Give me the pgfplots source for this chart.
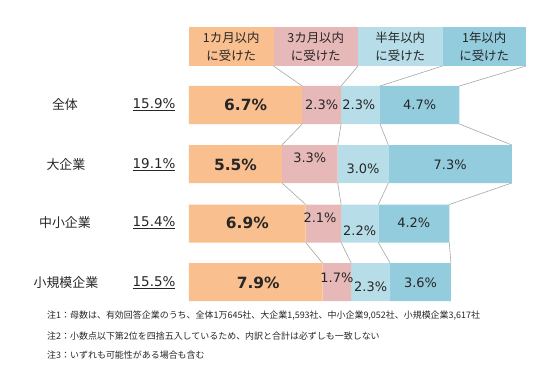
\documentclass[border=0pt]{standalone}
\usepackage{fontspec}
\setmainfont{Noto Sans CJK JP}
\newfontfamily\dvnum{DejaVu Sans}
\usepackage{pgfplots}
\pgfplotsset{compat=1.18}
\definecolor{cA}{HTML}{FABF8F}
\definecolor{cB}{HTML}{E6B9B8}
\definecolor{cC}{HTML}{B7DEE8}
\definecolor{cD}{HTML}{93CDDD}
\definecolor{ln}{HTML}{A6A6A6}
\definecolor{tx}{HTML}{262626}
\tikzset{
  myhead/.style={align=center, text=tx, font=\fontsize{12.5}{18}\selectfont},
  myconn/.style={draw=ln, line width=0.6bp},
  mybig/.style={text=tx, font=\dvnum\bfseries\fontsize{15.5}{17}\selectfont},
  mysmall/.style={text=tx, font=\dvnum\fontsize{13}{15}\selectfont},
  mycat/.style={text=tx, font=\fontsize{13}{15}\selectfont},
  mytot/.style={text=tx, font=\dvnum\fontsize{13.5}{15}\selectfont},
  mynote/.style={anchor=west, text=tx, inner sep=0pt, font=\fontsize{9}{10}\selectfont},
}
\begin{document}
\begin{tikzpicture}
\begin{axis}[
  at={(0,0)}, anchor=south west,
  width=543bp, height=366bp, scale only axis, hide axis, clip=false,
  xmin=-11.183, xmax=20.947, ymin=0, ymax=366, y dir=reverse,
  xbar stacked, bar width=38,
]
\addplot[fill=cA, draw=none] coordinates {(6.7,105) (5.5,164) (6.9,223.5) (7.9,282)};
\addplot[fill=cB, draw=none] coordinates {(2.3,105) (3.3,164) (2.1,223.5) (1.7,282)};
\addplot[fill=cC, draw=none] coordinates {(2.3,105) (3.0,164) (2.2,223.5) (2.3,282)};
\addplot[fill=cD, draw=none] coordinates {(4.7,105) (7.3,164) (4.2,223.5) (3.6,282)};
\end{axis}
\path (0,0) rectangle (543bp,366bp);
\begin{scope}[x=16.9bp, y=-1bp, shift={(189bp,366bp)}]
\fill[cA] (0,27) rectangle (5,66);
\fill[cB] (5,27) rectangle (10,66);
\fill[cC] (10,27) rectangle (15,66);
\fill[cD] (15,27) rectangle (19.94,66);
\node[myhead] at (2.5,46.5) {1カ月以内\\に受けた};
\node[myhead] at (7.5,46.5) {3カ月以内\\に受けた};
\node[myhead] at (12.5,46.5) {半年以内\\に受けた};
\node[myhead] at (17.47,46.5) {1年以内\\に受けた};
\draw[myconn] (5,66) -- (6.7,86); \draw[myconn] (10,66) -- (9.0,86); \draw[myconn] (15,66) -- (11.3,86); \draw[myconn] (19.94,66) -- (16.0,86);
\draw[myconn] (6.7,124) -- (5.5,145); \draw[myconn] (9.0,124) -- (8.8,145); \draw[myconn] (11.3,124) -- (11.8,145); \draw[myconn] (16.0,124) -- (19.1,145);
\draw[myconn] (5.5,183) -- (6.9,204.5); \draw[myconn] (8.8,183) -- (9.0,204.5); \draw[myconn] (11.8,183) -- (11.2,204.5); \draw[myconn] (19.1,183) -- (15.4,204.5);
\draw[myconn] (6.9,242.5) -- (7.9,263); \draw[myconn] (9.0,242.5) -- (9.6,263); \draw[myconn] (11.2,242.5) -- (11.9,263); \draw[myconn] (15.4,242.5) -- (15.5,263);
\node[mybig] at (3.35,105) {6.7\%};
\node[mybig] at (2.75,165) {5.5\%};
\node[mybig] at (3.45,223) {6.9\%};
\node[mybig] at (4.1,283) {7.9\%};
\node[mysmall] at (7.85,105) {2.3\%};
\node[mysmall] at (10.05,105) {2.3\%};
\node[mysmall] at (13.65,105) {4.7\%};
\node[mysmall] at (7.15,158) {3.3\%};
\node[mysmall] at (10.3,169) {3.0\%};
\node[mysmall] at (15.45,165) {7.3\%};
\node[mysmall] at (7.75,218) {2.1\%};
\node[mysmall] at (10.1,231) {2.2\%};
\node[mysmall] at (13.3,223) {4.2\%};
\node[mysmall] at (8.75,278) {1.7\%};
\node[mysmall] at (10.75,287) {2.3\%};
\node[mysmall] at (13.7,283) {3.6\%};
\node[mycat] at (-7.34,105) {全体};
\node[mycat] at (-7.28,165) {大企業};
\node[mycat] at (-7.34,223) {中小企業};
\node[mycat] at (-7.28,283) {小規模企業};
\node[mytot] at (-2.07,105) {\underline{15.9\%}};
\node[mytot] at (-2.07,165) {\underline{19.1\%}};
\node[mytot] at (-2.07,223) {\underline{15.4\%}};
\node[mytot] at (-2.07,283) {\underline{15.5\%}};
\node[mynote] at (-8.40,316) {注1：母数は、有効回答企業のうち、全体1万645社、大企業1,593社、中小企業9,052社、小規模企業3,617社};
\node[mynote] at (-8.40,336) {注2：小数点以下第2位を四捨五入しているため、内訳と合計は必ずしも一致しない};
\node[mynote] at (-8.40,355) {注3：いずれも可能性がある場合も含む};
\end{scope}
\end{tikzpicture}
\end{document}
